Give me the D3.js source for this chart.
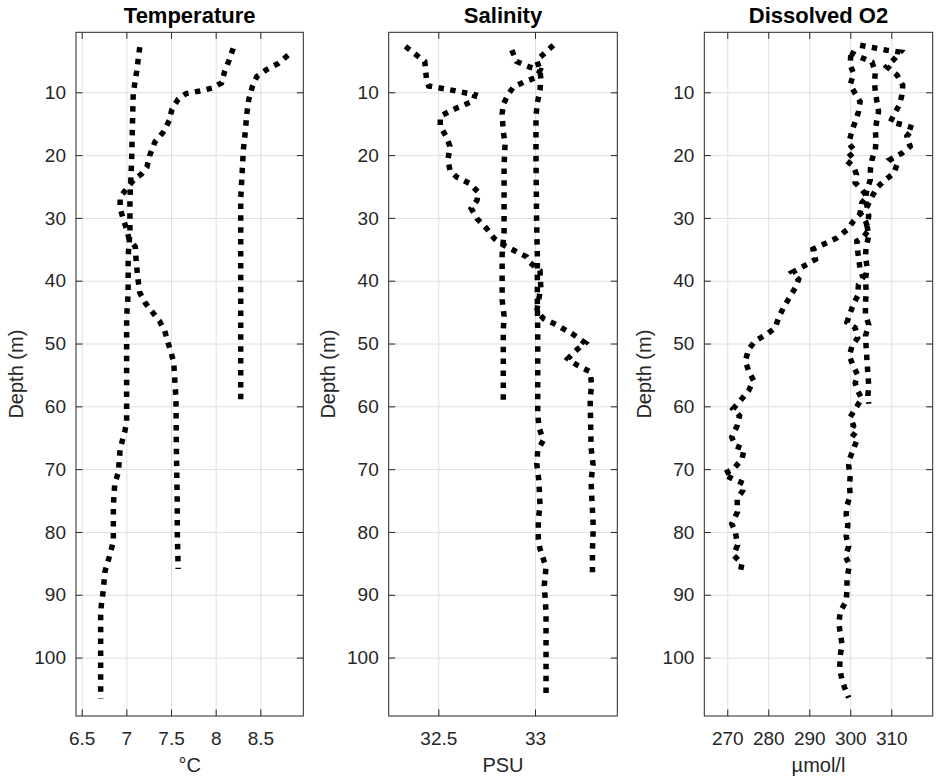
<!DOCTYPE html>
<html>
<head>
<meta charset="utf-8">
<script src="https://cdn.jsdelivr.net/npm/d3@7"></script>
<style>
  body { margin: 0; background: #fff; }
  svg text { font-family: "Liberation Sans", Arial, Helvetica, sans-serif; fill: #262626; }
</style>
</head>
<body>
<div id="chart"></div>
<script>
// ---- data (three casts: long, medium, short) ----
const tempLongDepth = [2.8, 6.7, 10.2, 13.9, 20.2, 23.9, 27, 32.3, 36.1, 41, 43, 45.6, 55, 62.5, 63.9, 66.8, 70.5, 72.3, 75.8, 81.5, 83.9, 86.3, 89.5, 91.6, 93.2, 100, 106.5];
const tempLong = [7.15, 7.115, 7.077, 7.07, 7.06, 7.05, 7.04, 7.04, 7.02, 7.02, 7.016, 7.003, 7.003, 7.003, 6.984, 6.93, 6.91, 6.87, 6.854, 6.854, 6.81, 6.76, 6.74, 6.72, 6.712, 6.712, 6.712];

const tempMedDepth = [3.0, 4.9, 6.7, 8.5, 9.3, 9.8, 10.2, 11.1, 12.7, 14.5, 16.4, 17.9, 20.1, 21.9, 23.0, 24.0, 25.4, 26.7, 28.5, 30.4, 31.7, 33.3, 34.6, 37, 39.8, 41.9, 43.5, 44.8, 46.4, 48, 49.6, 51.4, 53, 55.2, 58.9, 66.8, 75.8, 80, 85.9];
const tempMed = [8.196, 8.15, 8.10, 8.066, 7.97, 7.82, 7.67, 7.58, 7.51, 7.48, 7.41, 7.32, 7.26, 7.23, 7.17, 7.08, 7.0, 6.93, 6.93, 6.97, 7.0, 7.03, 7.10, 7.11, 7.13, 7.15, 7.21, 7.28, 7.37, 7.43, 7.46, 7.5, 7.53, 7.54, 7.555, 7.56, 7.57, 7.57, 7.58];

const tempShortDepth = [4.1, 5.4, 6.4, 7.5, 9.1, 11.2, 13.3, 16.5, 19.1, 21.8, 27, 36, 47, 59.4];
const tempShort = [8.81, 8.70, 8.57, 8.46, 8.41, 8.37, 8.35, 8.33, 8.31, 8.30, 8.28, 8.28, 8.28, 8.28];

const salLongDepth = [2.5, 4.9, 6.5, 7.8, 9.6, 11.7, 13.8, 20, 30, 36, 38.5, 41.2, 43.3, 48, 55, 61, 63.3, 65.4, 67, 69.1, 71.8, 75.8, 78, 81.1, 82.7, 84.3, 85.6, 88.5, 92.8, 100, 106.5];
const salLong = [33.095, 33.009, 33.026, 33.03, 33.026, 33.012, 33.005, 33.005, 33.008, 33.012, 33.012, 33.012, 33.012, 33.014, 33.014, 33.014, 33.02, 33.043, 33.014, 33.009, 33.02, 33.026, 33.017, 33.017, 33.026, 33.043, 33.057, 33.048, 33.057, 33.057, 33.057];

const salMedDepth = [2.7, 5.1, 8.3, 9.0, 9.6, 10.4, 11.4, 12.5, 13.8, 15.4, 17.0, 18.6, 20.8, 22.4, 23.5, 24.5, 25.9, 27.2, 28.5, 30.1, 31.7, 33.3, 34.3, 35.4, 36.2, 37.1, 38.4, 41.2, 43.3, 44.9, 46, 47, 48.6, 49.9, 51, 52.4, 53.4, 54.5, 56.6, 58.7, 66.6, 69.3, 71.8, 75.5, 78, 81, 82.7, 86.4];
const salMed = [32.33, 32.43, 32.44, 32.45, 32.56, 32.69, 32.68, 32.595, 32.51, 32.51, 32.54, 32.56, 32.55, 32.56, 32.595, 32.66, 32.707, 32.70, 32.67, 32.70, 32.75, 32.79, 32.836, 32.905, 32.957, 32.974, 33.026, 33.03, 33.017, 33.009, 33.043, 33.11, 33.2, 33.26, 33.216, 33.17, 33.216, 33.285, 33.293, 33.285, 33.29, 33.30, 33.29, 33.295, 33.30, 33.30, 33.297, 33.297];

const salShortDepth = [3.3, 5.1, 6.0, 6.5, 7.6, 8.4, 9.2, 10.3, 11.9, 13.5, 16.2, 18.3, 21.6, 32.2, 35.9, 43, 45.6, 48, 59.6];
const salShort = [32.88, 32.905, 32.974, 33.026, 33.009, 32.94, 32.888, 32.862, 32.836, 32.83, 32.836, 32.845, 32.84, 32.84, 32.83, 32.83, 32.84, 32.836, 32.836];

const oxyLongDepth = [4.1, 5.7, 7.0, 8.8, 10.2, 11.5, 13.1, 14.7, 16.2, 18.1, 19.4, 20.7, 21.8, 23.1, 24.4, 25.5, 26.6, 27.6, 29.2, 30.5, 31.9, 33.0, 33.7, 35.3, 38.2, 39.5, 40.6, 42.4, 43.7, 45.1, 46.6, 47.5, 49.1, 50.4, 52, 53.7, 55, 56.3, 57.5, 58.8, 60.4, 61.7, 63.1, 64.1, 65, 66.8, 68.4, 69.5, 71, 72.6, 74.2, 75.8, 77.3, 78.9, 80.7, 82.3, 83.9, 85.2, 87.3, 89.2, 91.0, 92.6, 94.5, 96.3, 97.9, 99.5, 101.6, 103.7, 105.1, 106.4];
const oxyLong = [300.1, 300, 300.8, 300, 301.2, 302.4, 302.0, 301.2, 300.4, 299.6, 301.2, 298.8, 300.8, 301.5, 301.2, 302.8, 304.1, 302.8, 302.4, 303.7, 304.5, 303.3, 301.6, 301.8, 302.4, 303.1, 302.0, 301.8, 300.8, 300, 299.2, 301.2, 301.8, 300.4, 299.8, 300.8, 301.8, 301.2, 301.8, 302.8, 301.2, 300, 300.8, 300, 301.8, 300.8, 299.8, 299.6, 300, 299.8, 300, 299.2, 299.0, 299.4, 299.0, 299.6, 298.8, 299.8, 299.2, 299.2, 299.0, 297.6, 297.2, 297.6, 298.0, 297.6, 297.4, 298.0, 298.8, 299.6];

const oxyMedDepth = [2.5, 2.9, 3.3, 3.6, 4.8, 5.9, 7.25, 8.9, 10.4, 12.0, 13.6, 14.7, 15.2, 15.7, 17.0, 18.6, 19.7, 20.7, 21.5, 22.9, 24.2, 25.2, 26.6, 28.2, 29.4, 30.5, 31.9, 33.2, 34.2, 35.0, 36.6, 37.4, 38.7, 39.8, 41.1, 42.4, 44.3, 45.9, 47.5, 48.5, 49.6, 50.9, 52.8, 54.3, 55.9, 57.5, 59.1, 60.4, 61.5, 63.1, 64.9, 66.3, 66.8, 68.4, 70.0, 70.8, 71.6, 72.3, 73.4, 74.7, 76.8, 78.7, 80.0, 82.1, 83.7, 85.0, 86.3];
const oxyMed = [302.4, 305.7, 308.9, 312.2, 310.6, 308.9, 311.4, 312.8, 312.6, 312.0, 310.6, 309.8, 313.0, 315.4, 313.8, 314.6, 312.6, 309.8, 311.4, 310.6, 308.1, 306.5, 305.3, 304.1, 302.4, 300.8, 299.2, 296.7, 293.5, 290.9, 291.5, 289.4, 285.8, 287.4, 286.6, 285.4, 283.7, 282.5, 281.7, 279.7, 276.8, 275.2, 274.4, 275.2, 276.4, 275.2, 273.2, 271.4, 273.0, 272.4, 271.1, 272.0, 274.1, 273.6, 271.5, 269.1, 271.5, 274.0, 273.8, 272.4, 272.5, 271.1, 272.0, 272.5, 271.5, 273.6, 273.2];

const oxyShortDepth = [3.6, 4.4, 5.2, 6.8, 8.4, 9.9, 11.5, 13.1, 14.4, 16.0, 17.6, 19.2, 20.7, 22.3, 23.9, 25.5, 26.8, 28.2, 29.7, 31.3, 32.9, 34.5, 36.1, 37.9, 39.8, 41.9, 43.5, 45.4, 47, 48.8, 50.9, 53, 54.9, 56.7, 58.3, 59.6];
const oxyShort = [300, 302.4, 305.3, 306.1, 305.9, 306.1, 306.5, 306.9, 306.5, 306.1, 306.3, 306.1, 305.3, 304.9, 304.9, 304.1, 303.7, 304.1, 304.5, 304.1, 304.5, 303.9, 303.7, 304.1, 303.7, 303.9, 303.7, 303.7, 304.5, 303.7, 303.9, 304.1, 304.3, 304.5, 304.3, 304.5];

const depthTicks = [10, 20, 30, 40, 50, 60, 70, 80, 90, 100];
const tempTicks = [6.5, 7, 7.5, 8, 8.5];
const salTicks = [32.5, 33];
const oxyTicks = [270, 280, 290, 300, 310];

const panels = [
    { title: "Temperature", unit: "°C", domain: [6.436, 8.981], ticks: tempTicks, left: 76, right: 303.3,
      series: [[tempLongDepth, tempLong], [tempMedDepth, tempMed], [tempShortDepth, tempShort]] },
    { title: "Salinity", unit: "PSU", domain: [32.2435, 33.4255], ticks: salTicks, left: 388.7, right: 617.3,
      series: [[salLongDepth, salLong], [salMedDepth, salMed], [salShortDepth, salShort]] },
    { title: "Dissolved O2", unit: "µmol/l", domain: [264.4, 320.1], ticks: oxyTicks, left: 704.3, right: 932.7,
      series: [[oxyLongDepth, oxyLong], [oxyMedDepth, oxyMed], [oxyShortDepth, oxyShort]] }
];

const width = 940, height = 780;
const plotTop = 32.3, plotBottom = 716;
const tickLen = 6.5;
const fmt = d3.format("~g");

const svg = d3.select("#chart").append("svg")
    .attr("width", width)
    .attr("height", height);

// shared depth scale (depth increases downwards)
const y = d3.scaleLinear().domain([0.45, 109.3]).range([plotTop, plotBottom]);

panels.forEach(p => {
    const w = p.right - p.left;
    const x = d3.scaleLinear().domain(p.domain).range([0, w]);
    const g = svg.append("g").attr("transform", `translate(${p.left},0)`);

    // grid
    g.append("g")
        .attr("transform", `translate(0,${plotBottom})`)
        .call(d3.axisBottom(x).tickValues(p.ticks).tickSize(-(plotBottom - plotTop)).tickFormat(""))
        .call(a => a.select(".domain").remove())
        .call(a => a.selectAll("line").attr("stroke", "#dfdfdf"));
    g.append("g")
        .call(d3.axisLeft(y).tickValues(depthTicks).tickSize(-w).tickFormat(""))
        .call(a => a.select(".domain").remove())
        .call(a => a.selectAll("line").attr("stroke", "#dfdfdf"));

    // profiles
    const line = d3.line()
        .x(d => x(d[1]))
        .y(d => y(d[0]));
    p.series.forEach(([depths, vals]) => {
        g.append("path")
            .datum(depths.map((d, i) => [d, vals[i]]))
            .attr("d", line)
            .attr("fill", "none")
            .attr("stroke", "#000")
            .attr("stroke-width", 5.5)
            .attr("stroke-dasharray", "5.5,6.4")
            .attr("stroke-linecap", "butt");
    });

    // axes with inward ticks on all sides
    const axB = g.append("g")
        .attr("transform", `translate(0,${plotBottom})`)
        .call(d3.axisBottom(x).tickValues(p.ticks).tickFormat(fmt).tickSizeInner(-tickLen).tickSizeOuter(0).tickPadding(15.5));
    const axT = g.append("g")
        .attr("transform", `translate(0,${plotTop})`)
        .call(d3.axisTop(x).tickValues(p.ticks).tickSizeInner(-tickLen).tickSizeOuter(0).tickFormat(""));
    const axL = g.append("g")
        .call(d3.axisLeft(y).tickValues(depthTicks).tickSizeInner(-tickLen).tickSizeOuter(0).tickPadding(10));
    const axR = g.append("g")
        .attr("transform", `translate(${w},0)`)
        .call(d3.axisRight(y).tickValues(depthTicks).tickSizeInner(-tickLen).tickSizeOuter(0).tickFormat(""));
    [axB, axT, axL, axR].forEach(a => {
        a.select(".domain").remove();
        a.selectAll("line").attr("stroke", "#262626");
        a.selectAll("text").attr("font-size", 19).attr("fill", "#262626");
    });

    // box
    g.append("rect")
        .attr("x", 0).attr("y", plotTop)
        .attr("width", w).attr("height", plotBottom - plotTop)
        .attr("fill", "none")
        .attr("stroke", "#262626")
        .attr("stroke-width", 1);

    // labels
    g.append("text")
        .attr("x", w / 2).attr("y", 23)
        .attr("text-anchor", "middle")
        .attr("font-size", 22)
        .attr("font-weight", "bold")
        .style("fill", "#000")
        .text(p.title);
    g.append("text")
        .attr("x", w / 2).attr("y", 772)
        .attr("text-anchor", "middle")
        .attr("font-size", 20)
        .text(p.unit);
    g.append("text")
        .attr("transform", `translate(-53.5,${(plotTop + plotBottom) / 2}) rotate(-90)`)
        .attr("text-anchor", "middle")
        .attr("font-size", 20)
        .text("Depth (m)");
});
</script>
</body>
</html>
